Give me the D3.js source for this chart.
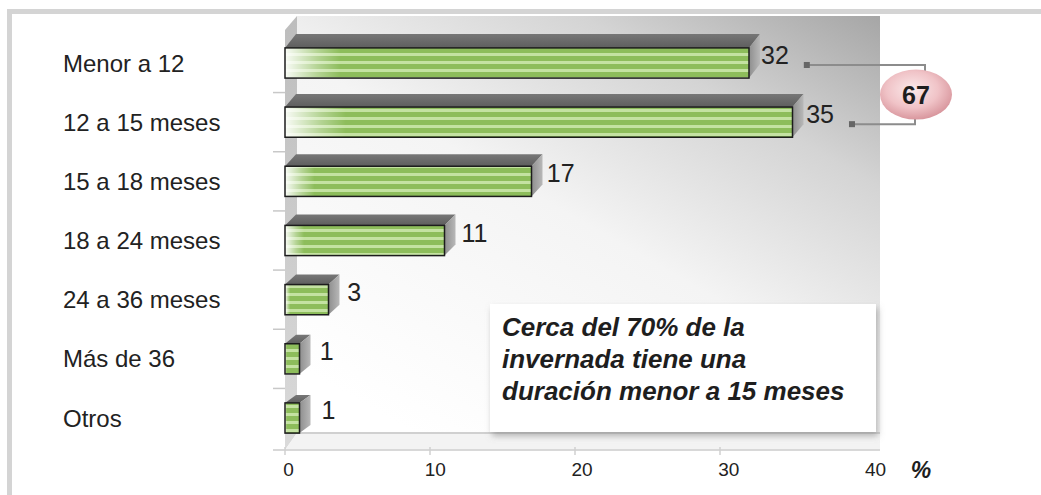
<!DOCTYPE html>
<html>
<head>
<meta charset="utf-8">
<title>Duración de la invernada</title>
<style>
body { margin: 0; background: #fff; }
svg { display: block; font-family: "Liberation Sans", Arial, sans-serif; }
.cat { font-size: 24px; fill: #222; }
.val { font-size: 25px; fill: #222; }
.xaxis text { font-size: 19px; fill: #222; font-family: "Liberation Sans", Arial, sans-serif; }
.note { font-size: 26px; font-weight: bold; font-style: italic; fill: #1e1e1e; }
.total { font-size: 25px; font-weight: bold; fill: #1e1e1e; }
</style>
</head>
<body>
<div id="chart"></div>
<script src="https://d3js.org/d3.v7.min.js"></script>
<script>
// data
var categories = ["Menor a 12", "12 a 15 meses", "15 a 18 meses", "18 a 24 meses", "24 a 36 meses", "Más de 36", "Otros"];
var values = [32, 35, 17, 11, 3, 1, 1];
var xTicks = [0, 10, 20, 30, 40];
var noteLines = ["Cerca del 70% de la", "invernada tiene una", "duración menor a 15 meses"];
var grouped = [0, 1]; // rows added up in the pink bubble

var width = 1041, height = 495;

var svg = d3.select("#chart").append("svg")
    .attr("width", width)
    .attr("height", height);

// bars sit on the back, the floor labels are a little further right
var x = d3.scaleLinear().domain([0, 40]).range([285, 865]);
var xFloor = d3.scaleLinear().domain([0, 40]).range([288, 875]);
var y = d3.scaleBand().domain(categories)
    .range([33.4, 447.6])
    .paddingInner(0.49)
    .paddingOuter(0.245);

// 3d depth of the bars, a bit deeper at the top
var depthX = 11;
var depthY = d3.scaleLinear().domain([0, 6]).range([-14, -8]);
var labelGap = d3.scaleLinear().domain([0, 6]).range([12, 22]);

var defs = svg.append("defs");

var pat = defs.append("pattern")
    .attr("id", "stripes")
    .attr("patternUnits", "userSpaceOnUse")
    .attr("width", 10).attr("height", 8);
pat.append("rect").attr("width", 10).attr("height", 8).attr("fill", "#8dbd5b");
pat.append("rect").attr("y", 5).attr("width", 10).attr("height", 3).attr("fill", "#c4e2a2");

function linGrad(id, x1, y1, x2, y2, stops) {
  var g = defs.append("linearGradient").attr("id", id)
      .attr("x1", x1).attr("y1", y1).attr("x2", x2).attr("y2", y2);
  stops.forEach(function(s) {
    g.append("stop").attr("offset", s[0]).attr("stop-color", s[1])
     .attr("stop-opacity", s[2] == null ? 1 : s[2]);
  });
}

linGrad("fade", 0, 0, 1, 0, [[0, "#fff", 0.95], [0.07, "#fff", 0.35], [0.12, "#fff", 0]]);
linGrad("wall", 0.2, 1, 1, 0, [[0, "#ffffff"], [0.45, "#f4f4f4"], [0.75, "#d4d4d4"], [1, "#a6a6a6"]]);
linGrad("leftwall", 0, 0, 0, 1, [[0, "#bdbdbd"], [1, "#dadada"]]);
linGrad("topface", 0, 0, 0, 1, [[0, "#777"], [1, "#5e5e5e"]]);
linGrad("side", 0, 0, 1, 0, [[0, "#8e8e8e"], [1, "#b8b8b8"]]);

var pink = defs.append("radialGradient").attr("id", "pink")
    .attr("cx", 0.45).attr("cy", 0.4).attr("r", 0.6);
pink.append("stop").attr("offset", 0).attr("stop-color", "#fbeaeb");
pink.append("stop").attr("offset", 0.6).attr("stop-color", "#f0c3c7");
pink.append("stop").attr("offset", 1).attr("stop-color", "#d9979e");

var shadow = defs.append("filter").attr("id", "shadow")
    .attr("x", -0.1).attr("y", -0.1).attr("width", 1.2).attr("height", 1.3);
shadow.append("feDropShadow").attr("dx", 2).attr("dy", 4)
    .attr("stdDeviation", 3).attr("flood-color", "#888").attr("flood-opacity", 0.6);

// frame round the whole chart
svg.append("rect")
    .attr("x", 9.5).attr("y", 11.5)
    .attr("width", 1200).attr("height", 700)
    .attr("fill", "none")
    .attr("stroke", "#d4d4d4")
    .attr("stroke-width", 5);

// back wall, left wall and floor
var x0 = x(0);
var wallRight = 880, floorY = 450, backY = 433;

svg.append("rect")
    .attr("x", x0 + 12).attr("y", 16)
    .attr("width", wallRight - x0 - 12).attr("height", backY - 16)
    .attr("fill", "url(#wall)");

svg.append("polygon")
    .attr("points", [[x0, 30], [x0 + 12, 16], [x0 + 12, backY], [x0, floorY]].join(" "))
    .attr("fill", "url(#leftwall)");

svg.append("polygon")
    .attr("points", [[x0, floorY], [x0 + 12, backY], [wallRight, backY], [wallRight, floorY]].join(" "))
    .attr("fill", "#f3f3f3");

svg.append("line")
    .attr("x1", x0 + 12).attr("x2", wallRight)
    .attr("y1", backY).attr("y2", backY)
    .attr("stroke", "#d0d0d0").attr("stroke-width", 2);

svg.append("line")
    .attr("x1", x0 - 12).attr("x2", wallRight)
    .attr("y1", floorY).attr("y2", floorY)
    .attr("stroke", "#d8d8d8").attr("stroke-width", 2);

// small ticks between the rows on the left wall
svg.selectAll(".rowtick")
  .data(categories.slice(1))
  .enter().append("line")
    .attr("class", "rowtick")
    .attr("x1", x0 - 12).attr("x2", x0)
    .attr("y1", function(d) { return y(d) - y.step() * y.paddingInner() / 2; })
    .attr("y2", function(d) { return y(d) - y.step() * y.paddingInner() / 2; })
    .attr("stroke", "#c8c8c8").attr("stroke-width", 1.5);

// ticks on the floor
svg.selectAll(".xtick")
  .data(xTicks.slice(0, -1))
  .enter().append("line")
    .attr("class", "xtick")
    .attr("x1", function(d) { return x(d); })
    .attr("x2", function(d) { return x(d); })
    .attr("y1", floorY - 3).attr("y2", floorY + 5)
    .attr("stroke", "#d0d0d0").attr("stroke-width", 1.5);

// note box (drawn before the bars so the short bars stay on top)
var box = svg.append("g");
box.append("rect")
    .attr("x", 490).attr("y", 304)
    .attr("width", 386).attr("height", 128)
    .attr("fill", "#fff")
    .attr("filter", "url(#shadow)");
box.selectAll("text")
  .data(noteLines)
  .enter().append("text")
    .attr("class", "note")
    .attr("x", 502)
    .attr("y", function(d, i) { return 336 + i * 32; })
    .text(function(d) { return d; });

// bars
var bars = svg.selectAll(".bar")
  .data(values)
  .enter().append("g")
    .attr("class", "bar");

bars.each(function(v, i) {
  var g = d3.select(this);
  var xa = x(0), xb = x(v);
  var yt = y(categories[i]), yb = yt + y.bandwidth();
  var dy = depthY(i);

  g.append("polygon")
      .attr("points", [[xa, yt], [xa + depthX, yt + dy], [xb + depthX, yt + dy], [xb, yt]].join(" "))
      .attr("fill", "url(#topface)");

  g.append("polygon")
      .attr("points", [[xb, yt], [xb + depthX, yt + dy], [xb + depthX, yb + dy], [xb, yb]].join(" "))
      .attr("fill", "url(#side)");

  g.append("rect")
      .attr("x", xa).attr("y", yt)
      .attr("width", xb - xa).attr("height", yb - yt)
      .attr("fill", "url(#stripes)");

  g.append("rect")
      .attr("x", xa).attr("y", yt)
      .attr("width", xb - xa).attr("height", yb - yt)
      .attr("fill", "url(#fade)")
      .attr("stroke", "#1c1c1c")
      .attr("stroke-width", 1.5);
});

// category names
svg.selectAll(".cat")
  .data(categories)
  .enter().append("text")
    .attr("class", "cat")
    .attr("x", 63)
    .attr("y", function(d) { return y(d) + y.bandwidth() / 2; })
    .attr("dy", "0.36em")
    .text(function(d) { return d; });

// value labels
var valLabels = svg.selectAll(".val")
  .data(values)
  .enter().append("text")
    .attr("class", "val")
    .attr("x", function(d, i) { return x(d) + labelGap(i); })
    .attr("y", function(d, i) { return y(categories[i]) + y.bandwidth() / 2 - 8; })
    .attr("dy", "0.36em")
    .text(function(d) { return d; });

// bracket joining the first two rows into the total
var total = d3.sum(grouped, function(i) { return values[i]; });
var ends = grouped.map(function(i) {
  var node = valLabels.nodes()[i];
  return {
    x: +node.getAttribute("x") + node.getComputedTextLength() + 18,
    y: y(categories[i]) + y.bandwidth() / 2 + 2
  };
});
var bx = 916, by = (ends[0].y + ends[1].y) / 2, rx = 36, ry = 25;

svg.append("path")
    .attr("d", "M" + ends[0].x + "," + ends[0].y + "H" + (bx + 9) + "V" + (by - ry + 2))
    .attr("fill", "none").attr("stroke", "#8c8c8c").attr("stroke-width", 2);
svg.append("path")
    .attr("d", "M" + ends[1].x + "," + ends[1].y + "H" + (bx - 1) + "V" + (by + ry - 2))
    .attr("fill", "none").attr("stroke", "#8c8c8c").attr("stroke-width", 2);

svg.selectAll(".dot")
  .data(ends)
  .enter().append("rect")
    .attr("class", "dot")
    .attr("x", function(d) { return d.x - 3; })
    .attr("y", function(d) { return d.y - 3; })
    .attr("width", 6).attr("height", 6)
    .attr("fill", "#666");

svg.append("ellipse")
    .attr("cx", bx).attr("cy", by)
    .attr("rx", rx).attr("ry", ry)
    .attr("fill", "url(#pink)");

svg.append("text")
    .attr("class", "total")
    .attr("x", bx).attr("y", by)
    .attr("text-anchor", "middle")
    .attr("dy", "0.36em")
    .text(total);

// x axis labels
var axis = svg.append("g")
    .attr("class", "xaxis")
    .attr("transform", "translate(0,462)")
    .call(d3.axisBottom(xFloor).tickValues(xTicks).tickSize(0).tickPadding(0));
axis.select(".domain").remove();

svg.append("text")
    .attr("x", 921).attr("y", 478)
    .attr("text-anchor", "middle")
    .attr("font-size", 23)
    .attr("font-weight", "bold")
    .attr("font-style", "italic")
    .attr("fill", "#1e1e1e")
    .text("%");
</script>
</body>
</html>
